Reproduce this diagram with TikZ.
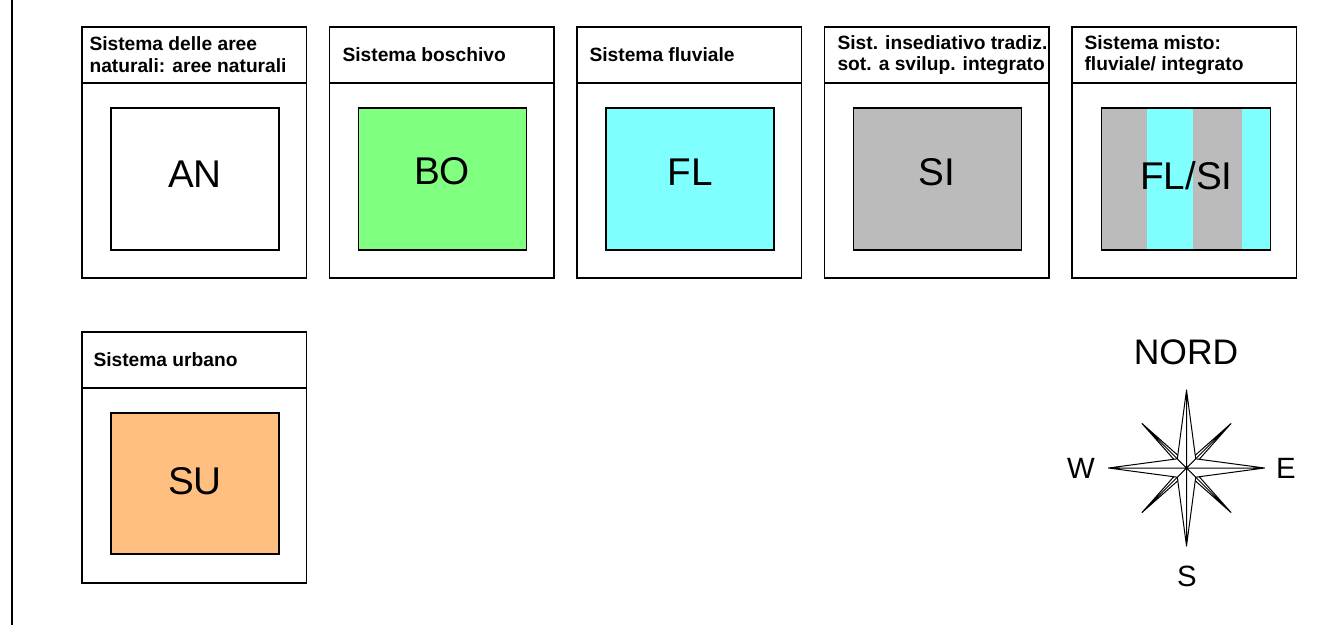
\documentclass[tikz,border=0pt]{standalone}
\usepackage{fontspec}
\setmainfont{Liberation Sans}
\definecolor{bocol}{RGB}{128,255,128}
\definecolor{flcol}{RGB}{128,255,255}
\definecolor{sicol}{RGB}{187,187,187}
\definecolor{sucol}{RGB}{255,191,128}
\tikzset{
  head/.style={anchor=west, align=left, inner sep=0pt, font=\fontsize{14.4}{16.3}\selectfont\bfseries},
  code/.style={inner sep=0pt, font=\fontsize{29}{34}\selectfont},
  wind/.style={inner sep=0pt, font=\fontsize{22}{26}\selectfont}
}
\begin{document}
\begin{tikzpicture}[x=.75pt, y=-.75pt, line width=.8pt]
  \useasboundingbox (0,0) rectangle (1333,625);

  %%margin
  \draw(12, 0) to (12, 625);

  %%B1 aree naturali
  \draw(82, 27) rectangle (306.5, 278);
  \draw(82, 83) to (306.5, 83);
  \draw(111, 108) rectangle (279, 250);
  \node[head] (hAN) at (89, 55) {Sistema delle aree\\naturali: aree naturali};
  \node[code] (AN) at (195, 174) {AN};

  %%B2 boschivo
  \draw(329.5, 27) rectangle (554, 278);
  \draw(329.5, 83) to (554, 83);
  \draw[fill=bocol](358.5, 108) rectangle (526.5, 250);
  \node[head] (hBO) at (342, 55) {Sistema boschivo};
  \node[code] (BO) at (442, 171) {BO};

  %%B3 fluviale
  \draw(577, 27) rectangle (801.5, 278);
  \draw(577, 83) to (801.5, 83);
  \draw[fill=flcol](606, 108) rectangle (774, 250);
  \node[head] (hFL) at (589, 55) {Sistema fluviale};
  \node[code] (FL) at (690, 172) {FL};

  %%B4 insediativo
  \draw(824.5, 27) rectangle (1049, 278);
  \draw(824.5, 83) to (1049, 83);
  \draw[fill=sicol](853.5, 108) rectangle (1021.5, 250);
  \node[head] (hSI) at (837, 55) {Sist. insediativo tradiz.\\sot. a svilup. integrato};
  \node[code] (SI) at (937, 172) {SI};

  %%B5 misto -- stripes
  \draw(1072, 27) rectangle (1296.5, 278);
  \draw(1072, 83) to (1296.5, 83);
  \fill[sicol](1101.5, 108) rectangle (1147, 250);
  \fill[flcol](1147, 108) rectangle (1193, 250);
  \fill[sicol](1193, 108) rectangle (1242, 250);
  \fill[flcol](1242, 108) rectangle (1270.5, 250);
  \draw(1101.5, 108) rectangle (1270.5, 250);
  \node[head] (hFS) at (1084, 55) {Sistema misto:\\fluviale/ integrato};
  \node[code] (FS) at (1186.5, 176) {FL/SI};

  %%B6 urbano
  \draw(82, 332) rectangle (306.5, 583);
  \draw(82, 388) to (306.5, 388);
  \draw[fill=sucol](111, 413) rectangle (279, 554);
  \node[head] (hSU) at (93, 360) {Sistema urbano};
  \node[code] (SU) at (195, 481) {SU};

  %%compass
  \begin{scope}[shift={(1186.5, 468)}, line width=.75pt, line join=round]
    \foreach \a in {45, 135, 225, 315}
      \draw[fill=white](\a:63) -- (\a+45:5) -- (0, 0) -- (\a-45:5) -- cycle (0, 0) -- (\a:63);
    \foreach \a in {0, 90, 180, 270}
      \draw[fill=white](\a:78) -- (\a+45:13) -- (0, 0) -- (\a-45:13) -- cycle (0, 0) -- (\a:78);
  \end{scope}
  \node[inner sep=0pt, font=\fontsize{26.6}{30}\selectfont] (nord) at (1186, 352.5) {NORD};
  \node[wind] (west) at (1081, 468.5) {W};
  \node[wind] (east) at (1286, 468.5) {E};
  \node[wind] (south) at (1187, 576) {S};

\end{tikzpicture}
\end{document}
